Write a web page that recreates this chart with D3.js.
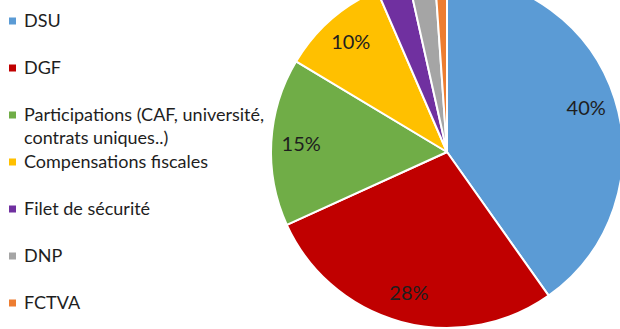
<!DOCTYPE html>
<html><head><meta charset="utf-8">
<script src="https://cdn.jsdelivr.net/npm/d3@7"></script>
<style>html,body{margin:0;padding:0;background:#fff;overflow:hidden}</style>
</head><body>
<svg id="c" width="620" height="329"></svg>
<script>
const categories = ["DSU", "DGF", "Participations (CAF, université, contrats uniques..)", "Compensations fiscales", "Filet de sécurité", "DNP", "FCTVA"];
const legendLines = [["DSU"], ["DGF"], ["Participations (CAF, université,", "contrats uniques..)"], ["Compensations fiscales"], ["Filet de sécurité"], ["DNP"], ["FCTVA"]];
const values = [40.2, 28.0, 15.4, 9.9, 3.0, 2.4, 1.1];
const colors = ["#5B9BD5", "#C00000", "#70AD47", "#FFC000", "#7030A0", "#A5A5A5", "#ED7D31"];
const showLabel = [true, true, true, true, false, false, false];

const svg = d3.select("#c");
const cx = 447, cy = 152, R = 176;
const total = d3.sum(values);

const pie = d3.pie().sort(null).value(d => d).startAngle(0).endAngle(2 * Math.PI);
const arcs = pie(values);
const arc = d3.arc().innerRadius(0).outerRadius(R);
const labelArc = d3.arc().innerRadius(R * 0.83).outerRadius(R * 0.83);

const g = svg.append("g").attr("transform", `translate(${cx},${cy})`);
g.selectAll("path").data(arcs).join("path")
  .attr("d", arc)
  .attr("fill", (d, i) => colors[i])
  .attr("stroke", "#fff")
  .attr("stroke-width", 2)
  .attr("stroke-linejoin", "round");

g.selectAll("text.lbl").data(arcs.filter((d, i) => showLabel[i])).join("text")
  .attr("class", "lbl")
  .attr("transform", d => `translate(${labelArc.centroid(d)})`)
  .attr("text-anchor", "middle")
  .attr("dy", "0.36em")
  .attr("font-family", "Lato, 'Open Sans', sans-serif")
  .attr("font-size", 20)
  .attr("fill", "#1e1e1e")
  .text(d => Math.round(d.value / total * 100) + "%");

const leg = svg.append("g").attr("transform", "translate(9,0)");
const rowY = d3.scaleLinear().domain([0, 1]).range([21, 68]);
categories.forEach((c, i) => {
  const y = rowY(i);
  const row = leg.append("g").attr("transform", `translate(0,${y})`);
  row.append("rect").attr("x", 0).attr("y", -3.5).attr("width", 7).attr("height", 7).attr("fill", colors[i]);
  legendLines[i].forEach((t, j) => {
    row.append("text")
      .attr("x", 15).attr("y", j * 23)
      .attr("dy", "0.36em")
      .attr("font-family", "Lato, 'Open Sans', sans-serif")
      .attr("font-size", 18)
      .attr("fill", "#1e1e1e")
      .text(t);
  });
});
</script>
</body></html>
